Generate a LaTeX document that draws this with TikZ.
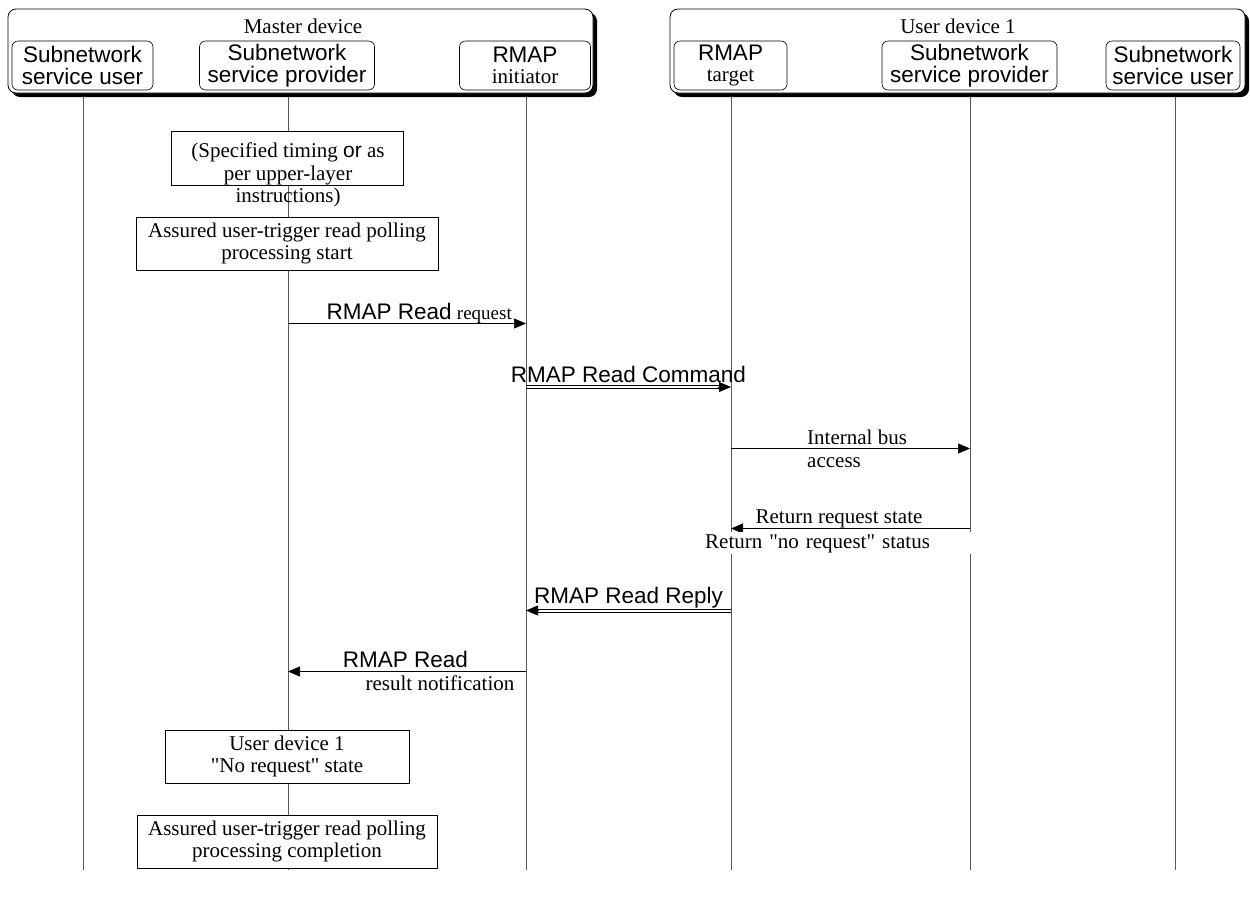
\documentclass[tikz,border=0pt]{standalone}
\usepackage{fontspec}
\setmainfont{Liberation Serif}[Ligatures=TeXOff]
\setsansfont{Liberation Sans}
\usetikzlibrary{arrows.meta,shadows,backgrounds}

\newcommand\hdsans{\sffamily\fontsize{22.5}{21.5}\selectfont}
\newcommand\hdserif{\rmfamily\fontsize{21}{22.5}\selectfont}
\newcommand\smserif{\rmfamily\fontsize{19}{20}\selectfont}

\begin{document}
\begin{tikzpicture}[x=1pt,y=-1pt,
  devbox/.style={draw, line width=0.8pt, rounded corners=8pt, fill=white, inner sep=0pt,
    drop shadow={shadow xshift=4pt, shadow yshift=-4pt, fill=black, opacity=1}},
  partbox/.style={draw, line width=0.6pt, rounded corners=6pt, fill=white, inner sep=0pt,
    align=center, minimum height=49pt, font=\hdsans},
  notebox/.style={draw, line width=0.8pt, fill=white, inner sep=0pt, align=center, font=\hdserif},
  lifeline/.style={draw=black!65, line width=0.6pt},
  msg/.style={line width=0.7pt, -{Triangle[length=12pt,width=10pt]}},
  rail/.style={line width=0.7pt},
  tiponly/.style={line width=0.6pt, -{Triangle[length=12pt,width=10pt]}},
  lbl/.style={inner sep=0pt, font=\hdserif},
  slbl/.style={inner sep=0pt, font=\hdsans},
]
\useasboundingbox (0,0) rectangle (1250,898);

% ---------- Master device ----------
\node[devbox, minimum width=585pt, minimum height=84pt] (master) at (300.5,51) {};
\node[lbl] (mastert) at (303,26) {Master device};
\node[partbox, minimum width=141pt] (su1) at (82.5,65.5) {Subnetwork\\service user};
\node[partbox, minimum width=175pt] (sp1) at (287,65.5) {Subnetwork\\service provider};
\node[partbox, minimum width=131pt] (ri) at (525,65.5) {RMAP\\{\hdserif initiator}};

% ---------- User device 1 ----------
\node[devbox, minimum width=575pt, minimum height=84pt] (user) at (957.5,51) {};
\node[lbl] (usert) at (958,26) {User device 1};
\node[partbox, minimum width=113pt] (rt) at (730.5,65.5) {RMAP\\{\hdserif target}};
\node[partbox, minimum width=175pt] (sp2) at (969.5,65.5) {Subnetwork\\service provider};
\node[partbox, minimum width=134pt] (su2) at (1173,65.5) {Subnetwork\\service user};

% ---------- lifeline ends ----------
\coordinate (L1) at (83,93);   \coordinate (L1b) at (83,870);
\coordinate (L2) at (288,93);  \coordinate (L2b) at (288,870);
\coordinate (L3) at (526,93);  \coordinate (L3b) at (526,870);
\coordinate (L4) at (731,93);  \coordinate (L4b) at (731,870);
\coordinate (L5) at (970,93);  \coordinate (L5b) at (970,870);
\coordinate (L6) at (1175,93); \coordinate (L6b) at (1175,870);

% ---------- notes on the provider lifeline ----------
\node[notebox, minimum width=232pt, minimum height=54pt] (timing) at (287,158.5) {};
\node[lbl, align=center] (timingt) at (288,175) {(Specified timing \textsf{or} as\\per upper-layer\\instructions)};
\node[notebox, minimum width=302pt, minimum height=53pt] (start) at (287,243.5)
  {Assured user-trigger read polling\\processing start};
\node[notebox, minimum width=244pt, minimum height=53pt] (state) at (287,756.5)
  {User device 1\\"No request" state};
\node[notebox, minimum width=300pt, minimum height=53pt] (done) at (287,841.5)
  {Assured user-trigger read polling\\processing completion};

% ---------- message end points ----------
\coordinate (m1a) at (288,323.5); \coordinate (m1b) at (526,323.5);
\coordinate (m2a) at (526,387);   \coordinate (m2b) at (731,387);
\coordinate (m3a) at (731,448.5); \coordinate (m3b) at (970,448.5);
\coordinate (m4a) at (970,528.5); \coordinate (m4b) at (731,528.5);
\coordinate (m5a) at (731,610.5); \coordinate (m5b) at (526,610.5);
\coordinate (m6a) at (526,671.5); \coordinate (m6b) at (288,671.5);

% RMAP Read request
\draw[msg] (m1a) -- (m1b);
\node[lbl, anchor=base east] (t1) at (512,319) {{\hdsans RMAP Read} {\smserif request}};

% RMAP Read Command (two rails and a head)
\draw[rail] ([yshift=1.6pt]m2a) -- ([xshift=-11pt,yshift=1.6pt]m2b);
\draw[rail] ([yshift=-1.6pt]m2a) -- ([xshift=-11pt,yshift=-1.6pt]m2b);
\draw[tiponly] ([xshift=-13pt]m2b) -- (m2b);
\node[slbl, anchor=base] (t2) at (628.5,382) {RMAP Read Command};

% Internal bus access
\draw[msg] (m3a) -- (m3b);
\node[lbl, anchor=base west] (t3a) at (807,444) {Internal bus};
\node[lbl, anchor=base west] (t3b) at (807,467) {access};

% Return request state
\draw[msg] (m4a) -- (m4b);
\node[lbl, anchor=base] (t4a) at (839,523) {Return request state};
\node[lbl, anchor=base west, fill=white, inner xsep=2pt, inner ysep=2pt, text width=270pt, align=left]
  (t4b) at (703,548) {Return "no request" status};

% RMAP Read Reply (two rails and a head)
\draw[rail] ([yshift=1.6pt]m5a) -- ([xshift=11pt,yshift=1.6pt]m5b);
\draw[rail] ([yshift=-1.6pt]m5a) -- ([xshift=11pt,yshift=-1.6pt]m5b);
\draw[tiponly] ([xshift=13pt]m5b) -- (m5b);
\node[slbl, anchor=base] (t5) at (628.5,603) {RMAP Read Reply};

% RMAP Read result notification
\draw[msg] (m6a) -- (m6b);
\node[slbl, anchor=base] (t6a) at (405.5,667) {RMAP Read};
\node[lbl, anchor=base] (t6b) at (440,690) {result notification};

% ---------- lifelines ----------
\begin{scope}[on background layer]
  \draw[lifeline] (L1) -- (L1b);
  \draw[lifeline] (L2) -- (L2b);
  \draw[lifeline] (L3) -- (L3b);
  \draw[lifeline] (L4) -- (L4b);
  \draw[lifeline] (L5) -- (L5b);
  \draw[lifeline] (L6) -- (L6b);
\end{scope}
\end{tikzpicture}
\end{document}
